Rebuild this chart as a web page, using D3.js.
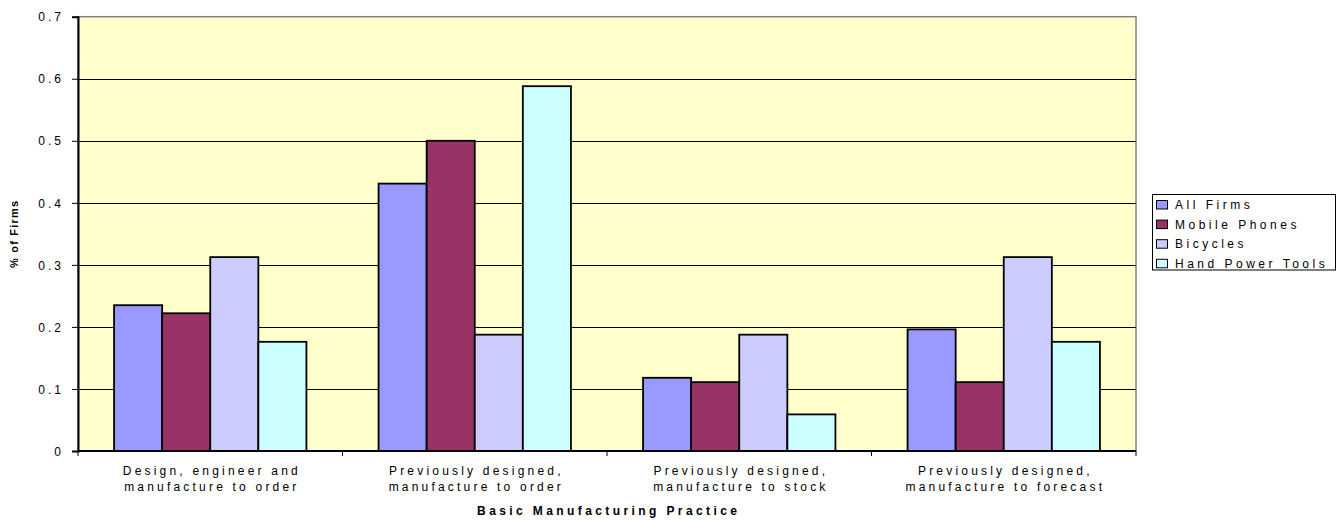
<!DOCTYPE html>
<html>
<head>
<meta charset="utf-8">
<script src="https://cdn.jsdelivr.net/npm/d3@7"></script>
<style>
  html, body { margin: 0; padding: 0; background: #ffffff; }
  svg { display: block; font-family: "Liberation Sans", Arial, sans-serif; }
</style>
</head>
<body>
<svg id="chart" width="1342" height="520"></svg>
<script>
// Share of firms by basic manufacturing practice, per industry group
const categories = [
  ["Design, engineer and", "manufacture to order"],
  ["Previously designed,", "manufacture to order"],
  ["Previously designed,", "manufacture to stock"],
  ["Previously designed,", "manufacture to forecast"]
];
const seriesNames = ["All Firms", "Mobile Phones", "Bicycles", "Hand Power Tools"];
const allFirms       = [0.235, 0.431, 0.118, 0.196];
const mobilePhones   = [0.222, 0.500, 0.111, 0.111];
const bicycles       = [0.3125, 0.1875, 0.1875, 0.3125];
const handPowerTools = [0.176, 0.588, 0.059, 0.176];
const yTicks = [0, 0.1, 0.2, 0.3, 0.4, 0.5, 0.6, 0.7];
const yTitle = "% of Firms";
const xTitle = "Basic Manufacturing Practice";

const seriesValues = [allFirms, mobilePhones, bicycles, handPowerTools];
const colors = ["#9999ff", "#993366", "#ccccff", "#ccffff"];

const svg = d3.select("#chart");
const plot = { left: 78, right: 1136, top: 16.7, bottom: 451 };
const SP = 3.2; // letter spacing used for the axis texts

const catKeys = categories.map((c, i) => i);
const x = d3.scaleBand().domain(catKeys).range([plot.left, plot.right]);
const xs = d3.scaleBand().domain(seriesNames).range([0, x.bandwidth()])
  .paddingInner(0).paddingOuter(0.75);
const y = d3.scaleLinear().domain([0, 0.7]).range([plot.bottom, plot.top]);

// plot area background
svg.append("rect")
  .attr("x", plot.left).attr("y", plot.top)
  .attr("width", plot.right - plot.left).attr("height", plot.bottom - plot.top)
  .attr("fill", "#ffffcc").attr("stroke", "#808080").attr("stroke-width", 1.5);

// horizontal gridlines
svg.append("g").selectAll("line")
  .data(yTicks.filter(t => t > 0 && t < 0.7))
  .join("line")
  .attr("x1", plot.left).attr("x2", plot.right)
  .attr("y1", d => Math.round(y(d)) + 0.5).attr("y2", d => Math.round(y(d)) + 0.5)
  .attr("stroke", "#000").attr("stroke-width", 1);

// bars
const rows = categories.map((c, i) => seriesNames.map((s, j) => ({ cat: i, series: s, j, v: seriesValues[j][i] })));
svg.append("g").selectAll("g")
  .data(rows)
  .join("g")
  .attr("transform", (d, i) => `translate(${x(i)},0)`)
  .selectAll("rect")
  .data(d => d)
  .join("rect")
  .attr("x", d => xs(d.series))
  .attr("width", xs.bandwidth())
  .attr("y", d => y(d.v))
  .attr("height", d => y(0) - y(d.v))
  .attr("fill", d => colors[d.j])
  .attr("stroke", "#000").attr("stroke-width", 1.8);

// y axis
const yAxis = d3.axisLeft(y).tickValues(yTicks).tickSize(6).tickPadding(0)
  .tickFormat(d => d === 0 ? "0" : d3.format(".1f")(d));
const gy = svg.append("g").attr("transform", `translate(${plot.left},0)`).call(yAxis);
gy.select(".domain").attr("stroke", "#000").attr("stroke-width", 2);
gy.selectAll(".tick line").attr("stroke", "#000");
gy.selectAll(".tick text")
  .attr("x", -14).attr("dy", "0.35em")
  .attr("font-size", 12).attr("fill", "#000")
  .attr("font-family", "Liberation Sans, Arial, sans-serif")
  .style("letter-spacing", "3px");

// x axis
const gx = svg.append("g").attr("transform", `translate(0,${plot.bottom})`);
gx.append("line").attr("x1", plot.left).attr("x2", plot.right)
  .attr("y1", 0).attr("y2", 0).attr("stroke", "#000").attr("stroke-width", 2);
const boundaries = catKeys.map(i => x(i)).concat([plot.right]);
gx.selectAll("line.tk").data(boundaries).join("line").attr("class", "tk")
  .attr("x1", d => d).attr("x2", d => d).attr("y1", 0).attr("y2", 5)
  .attr("stroke", "#000");

const labels = svg.append("g");
categories.forEach((lines, i) => {
  const cx = x(i) + x.bandwidth() / 2 + SP / 2;
  const t = labels.append("text")
    .attr("text-anchor", "middle").attr("font-size", 12).attr("fill", "#000")
    .style("letter-spacing", SP + "px");
  lines.forEach((ln, k) => {
    t.append("tspan").attr("x", cx).attr("y", 475 + k * 15.5).text(ln);
  });
});

// axis titles
svg.append("text")
  .attr("x", (plot.left + plot.right) / 2 + 1.7).attr("y", 515)
  .attr("text-anchor", "middle").attr("font-size", 12).attr("font-weight", "bold")
  .style("letter-spacing", "3.4px").text(xTitle);

svg.append("text")
  .attr("transform", `translate(18,${(plot.top + plot.bottom) / 2}) rotate(-90)`)
  .attr("text-anchor", "middle").attr("font-size", 11).attr("font-weight", "bold")
  .style("letter-spacing", "1.2px").text(yTitle);

// legend
const lg = svg.append("g");
lg.append("rect").attr("x", 1152.5).attr("y", 194.5).attr("width", 183).attr("height", 75.5)
  .attr("fill", "#fff").attr("stroke", "#000").attr("stroke-width", 1);
const items = lg.selectAll("g.item").data(seriesNames).join("g").attr("class", "item")
  .attr("transform", (d, i) => `translate(0,${209 + i * 19.6})`);
items.append("rect").attr("x", 1156.5).attr("y", -8.5).attr("width", 11).attr("height", 8.5)
  .attr("fill", (d, i) => colors[i]).attr("stroke", "#000").attr("stroke-width", 1);
items.append("text").attr("x", 1175).attr("y", 0).attr("font-size", 12)
  .style("letter-spacing", "3.5px").text(d => d);
</script>
</body>
</html>
